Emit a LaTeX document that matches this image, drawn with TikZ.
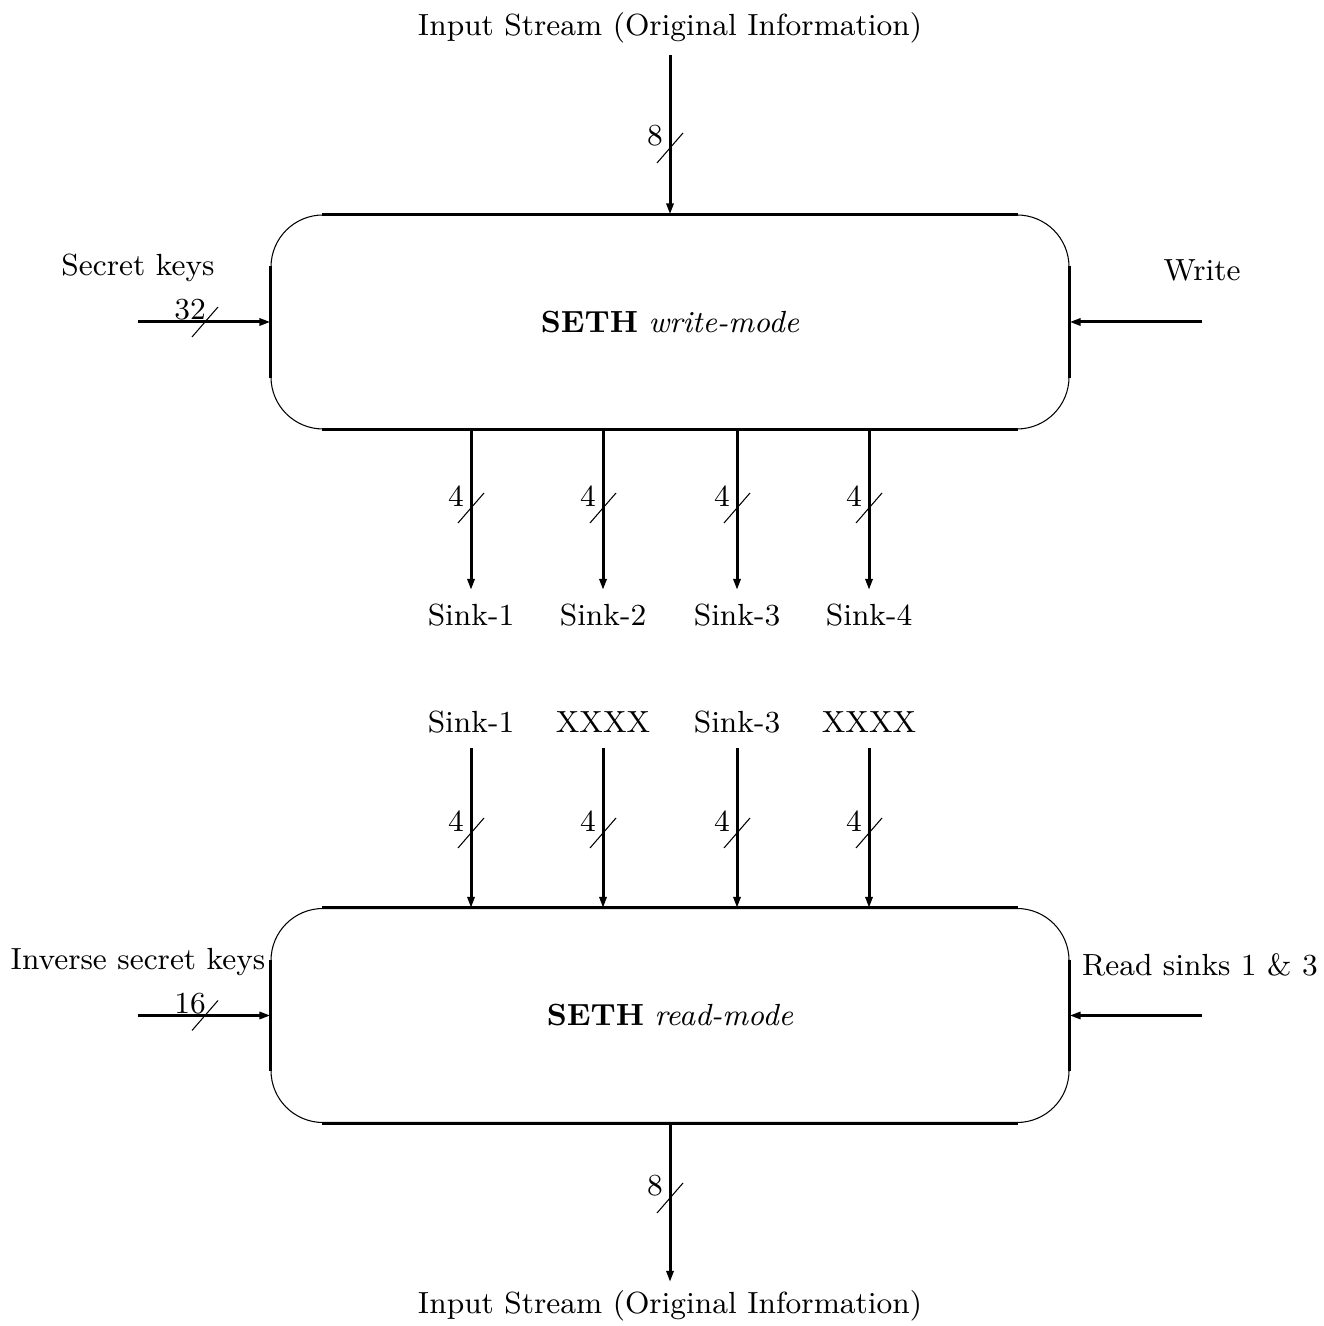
\documentclass[tikz,border=0pt]{standalone}
\usepackage{amsmath,amssymb}
\usepackage{xcolor}
\usepackage{tikz}
\usetikzlibrary{calc,arrows.meta}
\tikzset{
  base/.style={draw=black, line width=0.3pt},
  edge/.style={draw=black, line width=0.85pt},
  wire/.style={draw=black, line width=0.85pt, -{Triangle[length=1.1mm,width=0.7mm]}},
  cut/.style={draw=black, line width=0.3pt},
  lab/.style={font=\fontsize{8.7}{10.4}\selectfont, inner sep=0pt},
  box/.style={base, rectangle, rounded corners=5.2mm, minimum width=7.98cm, minimum height=2.14cm, lab},
  pics/buscut/.style={code={
    \draw[cut] (-0.13,-0.15) -- (0.13,0.15);
    \node[lab] at (-0.15,0.12) {#1};
  }},
}

\begin{document}
\begin{tikzpicture}
  \useasboundingbox (0,0) rectangle (13.23,13.26);

  % write mode
  \node[box] (W) at (6.70,10.04) {\textbf{SETH} \textit{write-mode}};
  \draw[edge] ([xshift=5.2mm]W.north west) -- ([xshift=-5.2mm]W.north east)
              ([xshift=5.2mm]W.south west) -- ([xshift=-5.2mm]W.south east)
              ([yshift=-5.2mm]W.north west) -- ([yshift=5.2mm]W.south west)
              ([yshift=-5.2mm]W.north east) -- ([yshift=5.2mm]W.south east);

  \node[lab] (inW) at (6.70,12.98) {Input Stream (Original Information)};
  \coordinate (in0) at (6.70,12.71);
  \draw[wire] (in0) -- (W.north);
  \pic at (6.70,11.78) {buscut=8};

  \node[lab] (key) at (1.38,10.58) {Secret keys};
  \coordinate (key0) at (1.38,10.04);
  \draw[wire] (key0) -- (W.west);
  \pic at (2.05,10.04) {buscut=32};

  \node[lab] (wr) at (12.02,10.56) {Write};
  \coordinate (wr0) at (12.02,10.04);
  \draw[wire] (wr0) -- (W.east);

  \foreach \i/\x in {1/4.71,2/6.03,3/7.37,4/8.69} {
    \coordinate (s\i) at (\x,7.36);
    \node[lab] (sk\i) at (\x,7.11) {Sink-\i};
    \draw[wire] (W.south -| s\i) -- (s\i);
    \pic at (\x,8.18) {buscut=4};
  }

  % read mode
  \node[box] (R) at (6.70,3.105) {\textbf{SETH} \textit{read-mode}};
  \draw[edge] ([xshift=5.2mm]R.north west) -- ([xshift=-5.2mm]R.north east)
              ([xshift=5.2mm]R.south west) -- ([xshift=-5.2mm]R.south east)
              ([yshift=-5.2mm]R.north west) -- ([yshift=5.2mm]R.south west)
              ([yshift=-5.2mm]R.north east) -- ([yshift=5.2mm]R.south east);

  \foreach \i/\x/\t in {1/4.71/Sink-1,2/6.03/XXXX,3/7.37/Sink-3,4/8.69/XXXX} {
    \node[lab] (rk\i) at (\x,6.04) {\t};
    \coordinate (r\i) at (\x,5.78);
    \draw[wire] (r\i) -- (R.north -| r\i);
    \pic at (\x,4.93) {buscut=4};
  }

  \node[lab] (ikey) at (1.38,3.64) {Inverse secret keys};
  \coordinate (ikey0) at (1.38,3.105);
  \draw[wire] (ikey0) -- (R.west);
  \pic at (2.05,3.105) {buscut=16};

  \node[lab] (rd) at (12.00,3.61) {Read sinks 1 \& 3};
  \coordinate (rd0) at (12.02,3.105);
  \draw[wire] (rd0) -- (R.east);

  \coordinate (out0) at (6.70,0.44);
  \draw[wire] (R.south) -- (out0);
  \pic at (6.70,1.28) {buscut=8};
  \node[lab] (outR) at (6.70,0.20) {Input Stream (Original Information)};
\end{tikzpicture}
\end{document}
